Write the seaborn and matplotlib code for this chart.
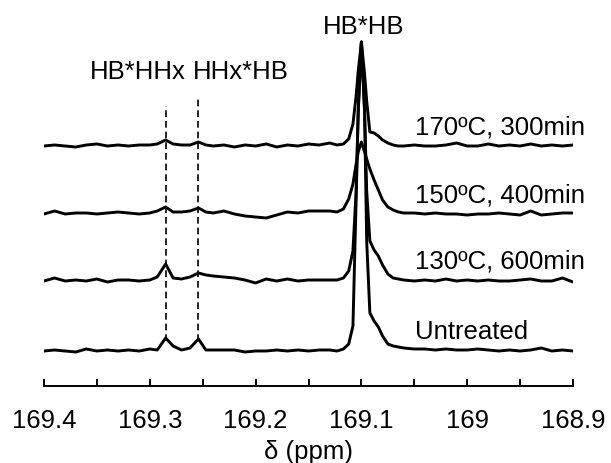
import matplotlib.pyplot as plt
import numpy as np
import pandas as pd
import seaborn as sns

# chemical shift grid (ppm), denser around the peaks
ppm = [169.400, 169.390, 169.380, 169.370, 169.360, 169.350, 169.340, 169.330, 169.320, 169.310,
       169.300, 169.293, 169.285, 169.278, 169.270, 169.262, 169.254, 169.247, 169.240, 169.230,
       169.220, 169.210, 169.200, 169.190, 169.180, 169.170, 169.160, 169.150, 169.140, 169.130,
       169.123, 169.117, 169.112, 169.108, 169.105, 169.103, 169.100, 169.097, 169.095, 169.092,
       169.088, 169.084, 169.080, 169.075, 169.070, 169.065, 169.060, 169.050, 169.040, 169.030,
       169.020, 169.010, 169.000, 168.990, 168.980, 168.970, 168.960, 168.950, 168.940, 168.930,
       168.920, 168.910, 168.900]

# intensities (arbitrary units)
untreated = [0, 1, 0, -1, 2, 0, 1, 0, 1, 0, 2,
             1, 13, 5, 1, 3, 12, 1, 1,
             1, 1, -1, 0, 0, 1, 0, 1, 0, 1, 1,
             0, 2, 7, 25, 150, 240, 309, 240, 110, 38, 30, 24, 15, 7, 5, 4, 3,
             2, 2, 1, 2, 1, 1, 2, 1, 0, 1, 0, 1, 3, 0, 1, 0]
t130 = [0, 3, 0, 1, 0, 2, -1, 1, 1, 0, 1,
        4, 17, 3, 2, 4, 8, 6, 5,
        4, 3, 1, -2, 2, 0, 2, 0, 1, 1, 1,
        1, 3, 10, 30, 90, 170, 239, 170, 90, 40, 31, 25, 16, 7, 3, 2, 1,
        0, 1, 0, 2, 0, 1, 0, 1, 0, 0, 1, 2, 0, 0, 3, -1]
t150 = [0, 3, 0, 1, 1, 0, 1, 2, 1, 0, 1,
        3, 7, 2, 2, 3, 6, 2, 1,
        3, 0, -2, -3, -4, -1, 2, 1, 3, 3, 3,
        2, 5, 15, 30, 50, 62, 72, 62, 55, 45, 34, 24, 14, 7, 4, 2, 1,
        1, 0, 1, 0, 0, -1, 0, 0, 1, 0, -1, 3, -1, 0, 1, 1]
t170 = [0, 1, 0, -1, 1, 2, 0, 1, 0, 1, 1,
        2, 6, 2, 1, 1, 4, 1, 0,
        1, -1, 1, 0, 2, -1, 1, 0, 2, 1, 3,
        1, 2, 7, 22, 50, 75, 104, 72, 45, 14, 13, 10, 6, 3, 1, 0, 0,
        1, 0, 0, 1, 3, 0, 0, 2, 0, 1, 0, 2, 0, 1, 0, 1]

samples = ["Untreated", "130ºC, 600min", "150ºC, 400min", "170ºC, 300min"]
offsets = [35, 105, 172, 240]

# peak assignments
assign_labels = ["HB*HHx", "HHx*HB"]
assign_ppm = [169.285, 169.254]
assign_top = [280, 289]
main_label = "HB*HB"
main_ppm = 169.098

tick_pos = [169.4, 169.3, 169.2, 169.1, 169.0, 168.9]
tick_labels = ["169.4", "169.3", "169.2", "169.1", "169", "168.9"]
minor_pos = [169.35, 169.25, 169.15, 169.05, 168.95]

frames = []
for name, off, vals in zip(samples, offsets, [untreated, t130, t150, t170]):
    frames.append(pd.DataFrame({"ppm": ppm, "y": np.array(vals) + off, "sample": name}))
df = pd.concat(frames, ignore_index=True)

sns.set_style("white")
plt.rcParams['font.family'] = ['Liberation Sans', 'DejaVu Sans']
plt.rcParams['text.color'] = 'black'
plt.rcParams['xtick.color'] = 'black'
plt.rcParams['axes.labelcolor'] = 'black'
fs = 18.5

fig = plt.figure(figsize=(6.11, 4.64), dpi=100, facecolor='white')
ax = fig.add_axes([44 / 611, 77 / 464, 529 / 611, 367 / 464])

# dashed guides for the minor dyads
ax.vlines(assign_ppm, 45, assign_top, colors='black', linestyles=(0, (4, 2.4)), linewidth=1.2)

sns.lineplot(data=df, x="ppm", y="y", hue="sample", palette=["black"] * 4,
             estimator=None, sort=False, legend=False, linewidth=2.1, ax=ax,
             solid_joinstyle='round')

for name, off in zip(samples, offsets):
    ax.text(169.049, off + 20, name, fontsize=fs, va='center', ha='left')
for lab, x in zip(assign_labels, [169.311, 169.214]):
    ax.text(x, 315, lab, fontsize=fs, va='center', ha='center')
ax.text(main_ppm, 360, main_label, fontsize=fs, va='center', ha='center')

ax.set_xlim(169.4, 168.9)
ax.set_ylim(0, 367)
ax.set_xticks(tick_pos)
ax.set_xticklabels(tick_labels, fontsize=fs)
ax.set_xticks(minor_pos, minor=True)
ax.tick_params(axis='x', which='both', direction='in', length=5, width=1.4, pad=16, bottom=True)
ax.set_yticks([])
ax.set_ylabel("")
ax.set_xlabel("δ (ppm)", fontsize=fs, labelpad=5)
sns.despine(ax=ax, left=True)
ax.spines['bottom'].set_linewidth(1.4)
ax.spines['bottom'].set_color('black')

plt.savefig("out.png", dpi=100)
plt.close()
